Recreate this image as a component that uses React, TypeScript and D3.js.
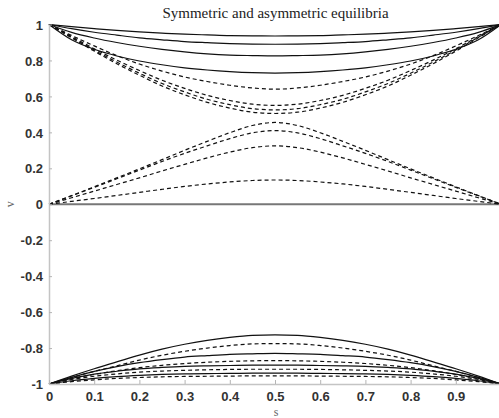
import React, { useEffect, useRef } from "react";
import * as d3 from "d3";

const sValues = [0, 0.05, 0.1, 0.15, 0.2, 0.25, 0.3, 0.35, 0.4, 0.45, 0.5, 0.55, 0.6, 0.65, 0.7, 0.75, 0.8, 0.85, 0.9, 0.95, 1];
const xTicks = [0, 0.1, 0.2, 0.3, 0.4, 0.5, 0.6, 0.7, 0.8, 0.9];
const yTicks = [-1, -0.8, -0.6, -0.4, -0.2, 0, 0.2, 0.4, 0.6, 0.8, 1];
const titleText = "Symmetric and asymmetric equilibria";

// symmetric branches near v = 1
const upperSolidA = [1, 0.988, 0.977, 0.967, 0.959, 0.952, 0.946, 0.942, 0.938, 0.937, 0.936, 0.937, 0.938, 0.942, 0.946, 0.952, 0.959, 0.967, 0.977, 0.988, 1];
const upperSolidB = [1, 0.977, 0.957, 0.941, 0.926, 0.915, 0.905, 0.899, 0.894, 0.891, 0.89, 0.891, 0.894, 0.899, 0.905, 0.915, 0.926, 0.941, 0.957, 0.977, 1];
const upperSolidC = [1, 0.956, 0.925, 0.9, 0.879, 0.862, 0.848, 0.837, 0.83, 0.827, 0.825, 0.827, 0.83, 0.837, 0.848, 0.862, 0.879, 0.9, 0.925, 0.956, 1];
const upperSolidD = [1, 0.915, 0.862, 0.825, 0.797, 0.776, 0.759, 0.747, 0.738, 0.732, 0.73, 0.732, 0.738, 0.747, 0.759, 0.776, 0.797, 0.825, 0.862, 0.915, 1];

const upperDashA = [1, 0.939, 0.881, 0.827, 0.78, 0.741, 0.708, 0.683, 0.662, 0.647, 0.64, 0.647, 0.662, 0.683, 0.708, 0.741, 0.78, 0.827, 0.881, 0.939, 1];
const upperDashB = [1, 0.933, 0.865, 0.802, 0.744, 0.69, 0.645, 0.606, 0.577, 0.557, 0.55, 0.557, 0.577, 0.606, 0.645, 0.69, 0.744, 0.802, 0.865, 0.933, 1];
const upperDashC = [1, 0.929, 0.858, 0.791, 0.729, 0.672, 0.625, 0.584, 0.554, 0.532, 0.525, 0.532, 0.554, 0.584, 0.625, 0.672, 0.729, 0.791, 0.858, 0.929, 1];
const upperDashD = [1, 0.926, 0.852, 0.782, 0.718, 0.658, 0.609, 0.567, 0.535, 0.512, 0.505, 0.512, 0.535, 0.567, 0.609, 0.658, 0.718, 0.782, 0.852, 0.926, 1];

// asymmetric branches starting from v = 0
const midDashA = [0, 0.048, 0.097, 0.147, 0.197, 0.248, 0.3, 0.35, 0.398, 0.438, 0.455, 0.438, 0.398, 0.35, 0.3, 0.248, 0.197, 0.147, 0.097, 0.048, 0];
const midDashB = [0, 0.047, 0.094, 0.142, 0.19, 0.238, 0.283, 0.325, 0.365, 0.397, 0.41, 0.397, 0.365, 0.325, 0.283, 0.238, 0.19, 0.142, 0.094, 0.047, 0];
const midDashC = [0, 0.036, 0.073, 0.11, 0.147, 0.185, 0.222, 0.258, 0.29, 0.315, 0.325, 0.315, 0.29, 0.258, 0.222, 0.185, 0.147, 0.11, 0.073, 0.036, 0];
const midDashD = [0, 0.016, 0.032, 0.049, 0.066, 0.083, 0.099, 0.113, 0.124, 0.132, 0.135, 0.132, 0.124, 0.113, 0.099, 0.083, 0.066, 0.049, 0.032, 0.016, 0];
const zeroBranch = [0, 0, 0, 0, 0, 0, 0, 0, 0, 0, 0, 0, 0, 0, 0, 0, 0, 0, 0, 0, 0];

// branches near v = -1
const lowerSolidA = [-1, -0.956, -0.915, -0.877, -0.839, -0.806, -0.779, -0.757, -0.741, -0.73, -0.727, -0.73, -0.741, -0.757, -0.779, -0.806, -0.839, -0.877, -0.915, -0.956, -1];
const lowerSolidB = [-1, -0.963, -0.93, -0.903, -0.881, -0.864, -0.85, -0.842, -0.835, -0.832, -0.83, -0.832, -0.835, -0.842, -0.85, -0.864, -0.881, -0.903, -0.93, -0.963, -1];
const lowerSolidC = [-1, -0.969, -0.945, -0.929, -0.916, -0.908, -0.902, -0.899, -0.897, -0.895, -0.895, -0.895, -0.897, -0.899, -0.902, -0.908, -0.916, -0.929, -0.945, -0.969, -1];
const lowerSolidD = [-1, -0.982, -0.969, -0.959, -0.952, -0.947, -0.944, -0.942, -0.941, -0.94, -0.94, -0.94, -0.941, -0.942, -0.944, -0.947, -0.952, -0.959, -0.969, -0.982, -1];

const lowerDashA = [-1, -0.964, -0.93, -0.899, -0.867, -0.84, -0.818, -0.8, -0.786, -0.777, -0.775, -0.777, -0.786, -0.8, -0.818, -0.84, -0.867, -0.899, -0.93, -0.964, -1];
const lowerDashB = [-1, -0.971, -0.947, -0.926, -0.909, -0.896, -0.886, -0.879, -0.874, -0.871, -0.87, -0.871, -0.874, -0.879, -0.886, -0.896, -0.909, -0.926, -0.947, -0.971, -1];
const lowerDashC = [-1, -0.975, -0.957, -0.944, -0.934, -0.928, -0.924, -0.921, -0.919, -0.918, -0.918, -0.918, -0.919, -0.921, -0.924, -0.928, -0.934, -0.944, -0.957, -0.975, -1];
const lowerDashD = [-1, -0.987, -0.977, -0.969, -0.964, -0.96, -0.958, -0.957, -0.956, -0.955, -0.955, -0.955, -0.956, -0.957, -0.958, -0.96, -0.964, -0.969, -0.977, -0.987, -1];

const solidBranches = [upperSolidA, upperSolidB, upperSolidC, upperSolidD, lowerSolidA, lowerSolidB, lowerSolidC, lowerSolidD];
const dashedBranches = [upperDashA, upperDashB, upperDashC, upperDashD, midDashA, midDashB, midDashC, midDashD, lowerDashA, lowerDashB, lowerDashC, lowerDashD];

export default function App() {
  const ref = useRef<SVGSVGElement>(null);

  useEffect(() => {
    const width = 499,
      height = 418;
    const svg = d3.select(ref.current);
    svg.selectAll("*").remove();

    const x = d3.scaleLinear().domain([0, 1]).range([49, 501]);
    const y = d3.scaleLinear().domain([-1, 1]).range([384, 24.5]);

    const line = d3
      .line<number>()
      .x((d, i) => x(sValues[i]))
      .y((d) => y(d))
      .curve(d3.curveMonotoneX);

    svg.append("rect").attr("width", width).attr("height", height).attr("fill", "#fff");

    // zero solution
    svg
      .append("path")
      .attr("d", line(zeroBranch))
      .attr("fill", "none")
      .attr("stroke", "#777")
      .attr("stroke-width", 2);

    svg
      .append("g")
      .selectAll("path")
      .data(dashedBranches)
      .enter()
      .append("path")
      .attr("d", (d) => line(d))
      .attr("fill", "none")
      .attr("stroke", "#111")
      .attr("stroke-width", 1.2)
      .attr("stroke-dasharray", "4,3");

    svg
      .append("g")
      .selectAll("path")
      .data(solidBranches)
      .enter()
      .append("path")
      .attr("d", (d) => line(d))
      .attr("fill", "none")
      .attr("stroke", "#111")
      .attr("stroke-width", 1.2);

    // axes
    const yAxis = svg
      .append("g")
      .attr("transform", "translate(" + x(0) + ",0)")
      .call(
        d3
          .axisLeft(y)
          .tickValues(yTicks)
          .tickSize(-3)
          .tickSizeOuter(0)
          .tickPadding(6)
          .tickFormat((d) => String(d))
      );
    const xAxis = svg
      .append("g")
      .attr("transform", "translate(0," + y(-1) + ")")
      .call(
        d3
          .axisBottom(x)
          .tickValues(xTicks)
          .tickSize(-4)
          .tickSizeOuter(0)
          .tickPadding(8)
          .tickFormat((d) => String(d))
      );
    [yAxis, xAxis].forEach((g) => {
      g.select(".domain").attr("stroke", "#c4c4c4").attr("stroke-width", 1.5);
      g.selectAll(".tick line").attr("stroke", "#b5b5b5");
      g.selectAll(".tick text")
        .attr("fill", "#333")
        .style("font-family", "'Liberation Sans', Arial, sans-serif")
        .style("font-weight", "bold")
        .style("font-size", "13px");
    });
    yAxis.selectAll(".tick text").attr("dy", "0.36em");

    svg
      .append("text")
      .attr("x", 275.5)
      .attr("y", 17.5)
      .attr("text-anchor", "middle")
      .style("font-family", "'Liberation Serif', 'Times New Roman', serif")
      .style("font-size", "15px")
      .attr("fill", "#222")
      .text(titleText);

    svg
      .append("text")
      .attr("x", 276)
      .attr("y", 416)
      .attr("text-anchor", "middle")
      .style("font-family", "'Liberation Serif', serif")
      .style("font-size", "12px")
      .attr("fill", "#666")
      .text("s");

    svg
      .append("text")
      .attr("transform", "translate(14," + y(0) + ") rotate(-90)")
      .attr("text-anchor", "middle")
      .style("font-family", "'Liberation Serif', serif")
      .style("font-size", "12px")
      .attr("fill", "#666")
      .text("v");
  }, []);

  return (
    <div style={{ position: "absolute", left: 0, top: 0 }}>
      <svg ref={ref} width={499} height={418} style={{ display: "block" }} />
    </div>
  );
}
